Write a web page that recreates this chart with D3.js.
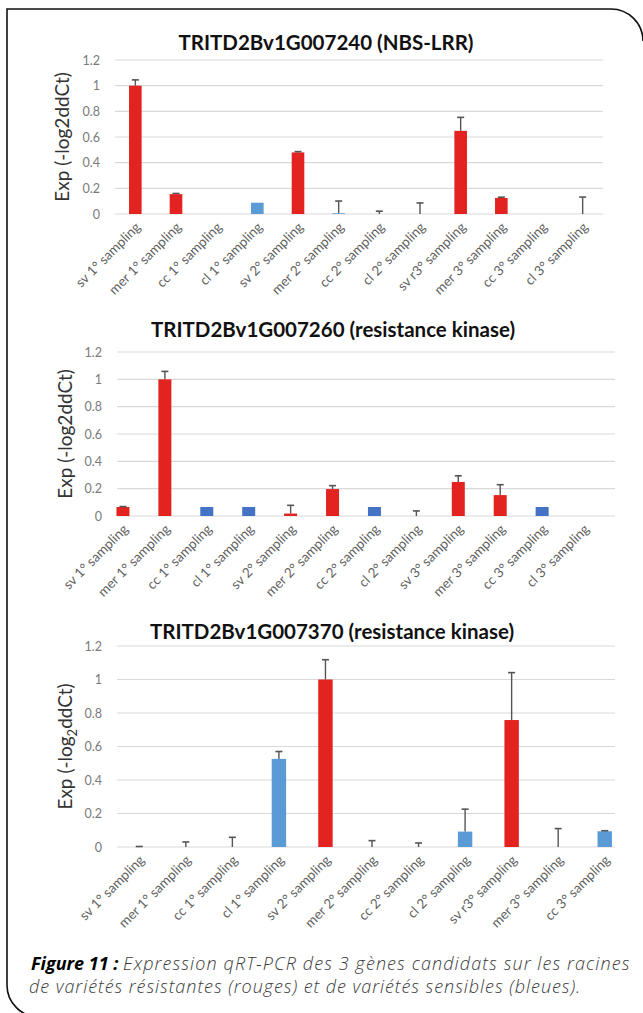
<!DOCTYPE html>
<html>
<head>
<meta charset="utf-8">
<script src="https://cdn.jsdelivr.net/npm/d3@7/dist/d3.min.js"></script>
<style>
  body { margin: 0; background: #fff; }
  svg { display: block; }
</style>
</head>
<body>
<div id="fig"></div>
<script>

// ---- data ----
var yTicks = [0, 0.2, 0.4, 0.6, 0.8, 1, 1.2];

var titles = ["TRITD2Bv1G007240 (NBS-LRR)",
              "TRITD2Bv1G007260 (resistance kinase)",
              "TRITD2Bv1G007370 (resistance kinase)"];

var samples1 = ["sv  1° sampling", "mer 1° sampling", "cc 1° sampling", "cl 1° sampling",
                "sv  2° sampling", "mer 2° sampling", "cc 2° sampling", "cl 2° sampling",
                "sv r3° sampling", "mer 3° sampling", "cc 3° sampling", "cl 3° sampling"];
var values1 = [1.0, 0.155, 0, 0.088, 0.48, 0.006, 0, 0, 0.648, 0.125, 0, 0];
var errors1 = [0.045, 0.005, 0, 0, 0.006, 0.095, 0.022, 0.086, 0.105, 0.006, 0, 0.132];
var groups1 = ["R", "R", "S", "S", "R", "S", "S", "S", "R", "R", "S", "S"];

var samples2 = ["sv 1° sampling", "mer 1° sampling", "cc 1° sampling", "cl 1° sampling",
                "sv 2° sampling", "mer 2° sampling", "cc 2° sampling", "cl 2° sampling",
                "sv 3° sampling", "mer 3° sampling", "cc 3° sampling", "cl 3° sampling"];
var values2 = [0.066, 1.0, 0.066, 0.066, 0.018, 0.197, 0.066, 0, 0.249, 0.153, 0.066, 0];
var errors2 = [0.003, 0.058, 0, 0, 0.06, 0.025, 0, 0.037, 0.045, 0.076, 0, 0];
var groups2 = ["R", "R", "S", "S", "R", "R", "S", "S", "R", "R", "S", "S"];

var samples3 = ["sv 1° sampling", "mer 1° sampling", "cc 1° sampling", "cl 1° sampling",
                "sv  2° sampling", "mer 2° sampling", "cc 2° sampling", "cl 2° sampling",
                "sv r3° sampling", "mer 3° sampling", "cc 3° sampling"];
var values3 = [0, 0, 0, 0.526, 1.0, 0, 0, 0.092, 0.758, 0, 0.094];
var errors3 = [0.003, 0.03, 0.058, 0.044, 0.118, 0.038, 0.024, 0.134, 0.283, 0.11, 0.003];
var groups3 = ["R", "R", "S", "S", "R", "R", "S", "S", "R", "R", "S"];

// ---- page ----
var W = 643, H = 1013;
var svg = d3.select("#fig").append("svg")
    .attr("width", W)
    .attr("height", H);

// frame (square top-left, rounded top-right and bottom-left)
svg.append("path")
    .attr("d", "M7,985 L7,9 L611,9 A32,32 0 0 1 643,41")
    .attr("fill", "none").attr("stroke", "#111").attr("stroke-width", 1.6);
svg.append("path")
    .attr("d", "M7,985 A32,32 0 0 0 39,1017")
    .attr("fill", "none").attr("stroke", "#111").attr("stroke-width", 1.6);

var RED = "#e2231f";
var FONT = "Lato, 'Open Sans', sans-serif";

function drawChart(o) {
    var g = svg.append("g");

    var y = d3.scaleLinear().domain([0, 1.2]).range([o.y0, o.y1]);
    var x = d3.scaleBand()
        .domain(o.samples)
        .range(o.xRange)
        .paddingInner(0.69)
        .paddingOuter(0.345);

    // gridlines
    g.selectAll("line.grid")
        .data(yTicks)
        .enter().append("line")
        .attr("x1", o.grid[0]).attr("x2", o.grid[1])
        .attr("y1", function(d) { return y(d); })
        .attr("y2", function(d) { return y(d); })
        .attr("stroke", "#d9d9d9").attr("stroke-width", 1.2);

    // y axis labels
    var ax = g.append("g")
        .attr("transform", "translate(" + (o.grid[0] - 15) + ",0)")
        .call(d3.axisLeft(y).tickValues(yTicks).tickSize(0).tickPadding(0).tickFormat(d3.format("~g")));
    ax.select(".domain").remove();
    ax.selectAll("text")
        .attr("font-family", FONT)
        .attr("font-size", 12.5)
        .attr("fill", "#7a7a7a");

    // bars
    g.selectAll("rect.bar")
        .data(o.values)
        .enter().append("rect")
        .attr("x", function(d, i) { return x(o.samples[i]); })
        .attr("y", function(d) { return y(d); })
        .attr("width", x.bandwidth())
        .attr("height", function(d) { return y(0) - y(d); })
        .attr("fill", function(d, i) { return o.groups[i] == "R" ? RED : o.blue; });

    // error bars (upper half only, as in the figure)
    o.errors.forEach(function(e, i) {
        if (e <= 0) return;
        var cx = x(o.samples[i]) + x.bandwidth() / 2;
        g.append("line")
            .attr("x1", cx).attr("x2", cx)
            .attr("y1", y(o.values[i])).attr("y2", y(o.values[i] + e))
            .attr("stroke", "#555").attr("stroke-width", 1.4);
        g.append("line")
            .attr("x1", cx - 3.5).attr("x2", cx + 3.5)
            .attr("y1", y(o.values[i] + e)).attr("y2", y(o.values[i] + e))
            .attr("stroke", "#555").attr("stroke-width", 1.6);
    });

    // category labels, rotated
    g.selectAll("text.cat")
        .data(o.samples)
        .enter().append("text")
        .attr("transform", function(d) {
            return "translate(" + (x(d) + x.bandwidth() / 2 + 6) + "," + (y(0) + 14) + ")rotate(-45)";
        })
        .attr("text-anchor", "end")
        .attr("font-family", FONT)
        .attr("font-size", 13.5)
        .attr("fill", "#5f5f5f")
        .text(function(d) { return d; });

    // title
    g.append("text")
        .attr("x", o.titleX).attr("y", o.titleY)
        .attr("text-anchor", "middle")
        .attr("font-family", FONT)
        .attr("font-weight", "bold")
        .attr("font-size", 20.5)
        .attr("fill", "#111")
        .text(o.title);

    // y title
    var yt = g.append("text")
        .attr("transform", "translate(" + o.yTitleX + "," + ((o.y0 + o.y1) / 2) + ")rotate(-90)")
        .attr("text-anchor", "middle")
        .attr("font-family", FONT)
        .attr("font-size", 19)
        .attr("fill", "#333");
    if (o.subscript) {
        yt.append("tspan").text("Exp  (-log");
        yt.append("tspan").attr("font-size", 13).attr("dy", 5).text("2");
        yt.append("tspan").attr("dy", -5).text("ddCt)");
    } else {
        yt.text("Exp (-log2ddCt)");
    }
}

drawChart({
    title: titles[0], titleX: 326, titleY: 50,
    samples: samples1, values: values1, errors: errors1, groups: groups1,
    blue: "#5b9bd5",
    y0: 214, y1: 60, xRange: [115, 603], grid: [115, 603], yTitleX: 69
});

drawChart({
    title: titles[1], titleX: 333, titleY: 337,
    samples: samples2, values: values2, errors: errors2, groups: groups2,
    blue: "#4472c4",
    y0: 516, y1: 352, xRange: [102, 605], grid: [117, 615], yTitleX: 72
});

drawChart({
    title: titles[2], titleX: 332, titleY: 639,
    samples: samples3, values: values3, errors: errors3, groups: groups3,
    blue: "#5b9bd5",
    y0: 847, y1: 646, xRange: [116, 628], grid: [117, 615], yTitleX: 72, subscript: true
});

// caption
var cap = svg.append("text")
    .attr("font-family", "'Open Sans', Lato, sans-serif")
    .attr("font-style", "italic")
    .attr("font-size", 18)
    .attr("fill", "#3a3a3a");
var l1 = cap.append("tspan").attr("x", 31).attr("y", 970);
l1.append("tspan").attr("font-weight", "bold").attr("fill", "#000").text("Figure 11 : ");
l1.append("tspan").attr("font-weight", 300).attr("letter-spacing", 1.1)
    .text("Expression qRT-PCR des 3 gènes candidats sur les racines");
cap.append("tspan").attr("x", 29).attr("y", 993).attr("font-weight", 300).attr("letter-spacing", 0.95)
    .text("de variétés résistantes (rouges) et de variétés sensibles (bleues).");

</script>
</body>
</html>
